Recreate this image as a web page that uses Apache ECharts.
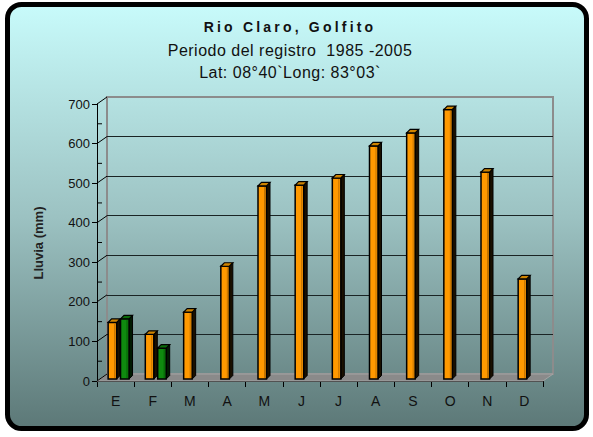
<!DOCTYPE html>
<html><head><meta charset="utf-8">
<script src="https://cdn.jsdelivr.net/npm/echarts@6/dist/echarts.min.js"></script>
<style>html,body{margin:0;padding:0;background:#fff}#c{width:593px;height:437px}</style>
</head><body><div id="c"></div>
<script>
// ---- data ----
const months = ['E','F','M','A','M','J','J','A','S','O','N','D'];
const lluviaNaranja = [148,118,174,290,493,495,513,594,627,686,528,258];
const lluviaVerde = [157,83,null,null,null,null,null,null,null,null,null,null];
const yTicks = [0,100,200,300,400,500,600,700];
const yMinorTicks = [50,150,250,350,450,550,650];
const titleText = 'Rio Claro, Golfito';
const subLine1 = 'Periodo del registro  1985 -2005';
const subLine2 = 'Lat: 08°40`Long: 83°03`';
const yName = 'Lluvia (mm)';

const FONT = '"Liberation Sans", Arial, sans-serif';
const DX = 10, DY = -7;

function barRender(colors, offsetFn) {
  return function (params, api) {
    const i = api.value(0), v = api.value(1);
    const top = api.coord([i, v]);
    const base = api.coord([i, 0]);
    const cx = top[0] + offsetFn(i);
    const W = 8.5, D = 3.5;
    const x0 = cx - W / 2, x1 = cx + W / 2, yt = top[1], yb = base[1] - 2;
    return {
      type: 'group',
      children: [
        { type: 'polygon', shape: { points: [[x1, yb], [x1 + D, yb - D], [x1 + D, yt - D], [x1, yt]] },
          style: { fill: colors.side, stroke: '#000', lineWidth: 1 } },
        { type: 'rect', shape: { x: x0, y: yt, width: W, height: yb - yt },
          style: { fill: colors.face, stroke: '#000', lineWidth: 1.5 } },
        { type: 'line', shape: { x1: x1 - 2, y1: yt + 1, x2: x1 - 2, y2: yb - 1 },
          style: { stroke: colors.stripe, lineWidth: 1 } },
        { type: 'polygon', shape: { points: [[x0, yt], [x1, yt], [x1 + D, yt - D], [x0 + D, yt - D]] },
          style: { fill: colors.top, stroke: '#000', lineWidth: 1.2 } }
      ]
    };
  };
}

const chart = echarts.init(document.getElementById('c'), null, { renderer: 'svg' });
const option = {
  animation: false,
  backgroundColor: '#ffffff',
  graphic: [
    { type: 'rect', z: -10, shape: { x: 7.5, y: 4.5, width: 579, height: 424, r: 14 },
      style: { fill: new echarts.graphic.LinearGradient(0, 0, 0, 1, [
        { offset: 0, color: '#c8fbfb' }, { offset: 0.5, color: '#9cc2c2' }, { offset: 1, color: '#5c7877' }]),
        stroke: '#000', lineWidth: 5 } },
    { type: 'text', z: 100, x: 290, y: 27, id: 'ttl',
      style: { text: titleText, font: 'bold 14px ' + FONT, fill: '#111', textAlign: 'center', textVerticalAlign: 'middle' } },
    { type: 'text', z: 100, x: 290, y: 50,
      style: { text: subLine1, font: '16px ' + FONT, fill: '#111', textAlign: 'center', textVerticalAlign: 'middle' } },
    { type: 'text', z: 100, x: 290, y: 72.5,
      style: { text: subLine2, font: '16px ' + FONT, fill: '#111', textAlign: 'center', textVerticalAlign: 'middle' } },
    { type: 'text', z: 100, x: 38, y: 243, rotation: Math.PI / 2,
      style: { text: yName, font: 'bold 13px ' + FONT, fill: '#222', textAlign: 'center', textVerticalAlign: 'middle' } }
  ],
  grid: [
    { left: 97, top: 104, width: 446, height: 277 },
    { left: 107, top: 97, width: 446, height: 277, show: true, borderColor: '#8c8c8c', borderWidth: 2, backgroundColor: 'rgba(0,0,0,0)' }
  ],
  xAxis: [
    { type: 'category', gridIndex: 0, data: months, boundaryGap: true,
      axisLine: { lineStyle: { color: '#000', width: 1 } },
      axisTick: { show: true, length: 6, lineStyle: { color: '#000' } },
      axisLabel: { color: '#111', fontSize: 14, fontFamily: FONT, margin: 13 } },
    { type: 'category', gridIndex: 1, data: months, show: false }
  ],
  yAxis: [
    { type: 'value', gridIndex: 0, min: 0, max: 700, interval: 100,
      axisLine: { show: true, lineStyle: { color: '#000', width: 1 } },
      axisTick: { show: true, length: 5, lineStyle: { color: '#000' } },
      axisLabel: { color: '#111', fontSize: 13, fontFamily: FONT, margin: 7 },
      splitLine: { show: false } },
    { type: 'value', gridIndex: 1, min: 0, max: 700, interval: 100,
      axisLine: { show: false }, axisTick: { show: false }, axisLabel: { show: false },
      splitLine: { show: true, lineStyle: { width: 1.2,
        color: ['#8c8c8c', '#1a2424', '#1a2424', '#1a2424', '#1a2424', '#1a2424', '#1a2424', '#8c8c8c'] } } }
  ],
  series: [
    { type: 'custom', name: 'piso', xAxisIndex: 0, yAxisIndex: 0, z: 3, silent: true,
      data: [[0, 0]],
      renderItem: function (params, api) {
        const cs = params.coordSys;
        const y0 = cs.y + cs.height;
        return { type: 'polygon',
          shape: { points: [[cs.x, y0], [cs.x + cs.width, y0], [cs.x + cs.width + DX, y0 + DY], [cs.x + DX, y0 + DY]] },
          style: { fill: '#8a8a8a', stroke: '#a4a4a4', lineWidth: 1 } };
      } },
    { type: 'custom', name: 'conectores', xAxisIndex: 0, yAxisIndex: 0, z: 4, silent: true,
      data: yTicks.map(v => [0, v]),
      renderItem: function (params, api) {
        const cs = params.coordSys;
        const y = api.coord([0, api.value(1)])[1];
        return { type: 'line', shape: { x1: cs.x, y1: y, x2: cs.x + DX, y2: y + DY },
          style: { stroke: '#000', lineWidth: 1 } };
      } },
    { type: 'custom', name: 'menores', xAxisIndex: 0, yAxisIndex: 0, z: 4, silent: true,
      data: yMinorTicks.map(v => [0, v]),
      renderItem: function (params, api) {
        const cs = params.coordSys;
        const y = api.coord([0, api.value(1)])[1];
        return { type: 'line', shape: { x1: cs.x, y1: y, x2: cs.x + 5, y2: y },
          style: { stroke: '#000', lineWidth: 1 } };
      } },
    { type: 'custom', name: 'Lluvia', xAxisIndex: 0, yAxisIndex: 0, z: 6,
      data: lluviaNaranja.map((v, i) => [i, v]),
      renderItem: barRender({ face: '#ff9900', side: '#1a1000', top: '#cf8400', stripe: '#c47400' },
        i => (lluviaVerde[i] != null ? -3.2 : -2)) },
    { type: 'custom', name: 'Lluvia 2', xAxisIndex: 0, yAxisIndex: 0, z: 6,
      data: lluviaVerde.map((v, i) => [i, v]).filter(d => d[1] != null),
      renderItem: barRender({ face: '#0f8a0f', side: '#021a02', top: '#0a6a0a', stripe: '#066006' }, i => 9.2) }
  ]
};
chart.setOption(option);
function spacing() {
  document.querySelectorAll('#c text').forEach(t => {
    const s = t.textContent;
    if (s === titleText) t.setAttribute('letter-spacing', '3.2');
    else if (s === subLine1 || s === subLine2) t.setAttribute('letter-spacing', '0.5');
  });
}
chart.on('finished', spacing);
spacing();
</script></body></html>
